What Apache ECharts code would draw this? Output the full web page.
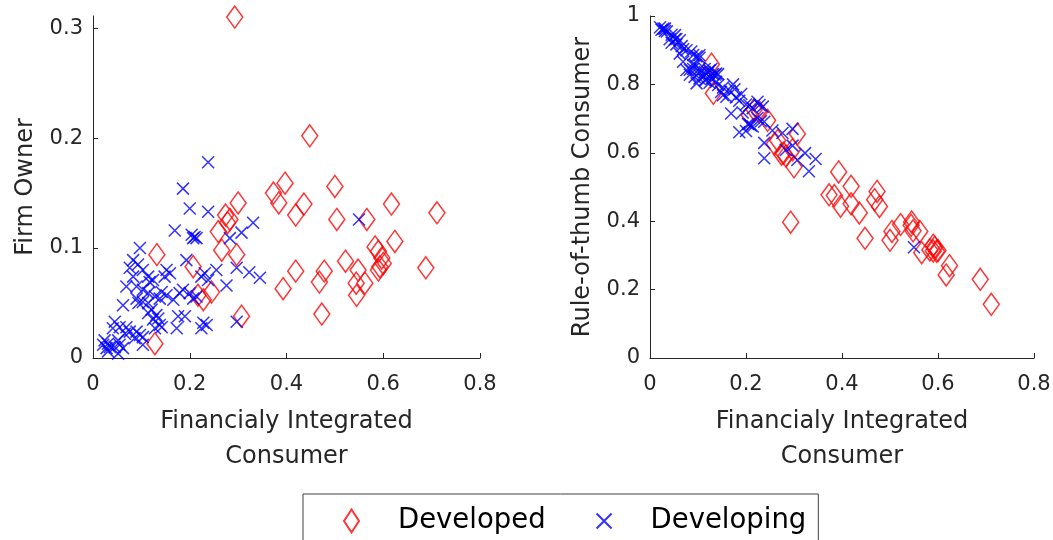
<!DOCTYPE html>
<html>
<head>
<meta charset="utf-8">
<script src="https://cdn.jsdelivr.net/npm/echarts@6/dist/echarts.min.js"></script>
<style>
html,body{margin:0;padding:0;background:#fff;}
#chart{width:1053px;height:540px;}
</style>
</head>
<body>
<div id="chart"></div>
<script>
// Developed economies
const devX    = [0.293,0.448,0.397,0.500,0.436,0.419,0.504,0.566,0.617,0.711,0.624,0.583,0.590,0.597,0.600,0.593,0.590,0.522,0.548,0.562,0.544,0.545,0.688,0.419,0.478,0.468,0.393,0.473,0.373,0.384,0.300,0.274,0.283,0.278,0.259,0.266,0.297,0.207,0.245,0.217,0.228,0.307,0.132,0.128];
const devFirm = [0.310,0.202,0.159,0.156,0.140,0.130,0.126,0.126,0.140,0.132,0.106,0.101,0.097,0.091,0.086,0.083,0.080,0.088,0.080,0.068,0.068,0.057,0.082,0.079,0.079,0.069,0.063,0.040,0.150,0.141,0.141,0.130,0.126,0.123,0.115,0.098,0.094,0.083,0.060,0.057,0.053,0.038,0.094,0.013];
const devRot  = [0.397,0.350,0.444,0.344,0.424,0.451,0.370,0.308,0.243,0.157,0.270,0.316,0.313,0.312,0.314,0.324,0.330,0.390,0.372,0.370,0.388,0.398,0.230,0.502,0.443,0.463,0.544,0.487,0.477,0.475,0.559,0.596,0.591,0.599,0.626,0.636,0.609,0.710,0.695,0.726,0.719,0.655,0.774,0.859];

// Developing economies
const dvgX    = [0.238,0.186,0.200,0.238,0.169,0.204,0.210,0.214,0.207,0.331,0.307,0.283,0.097,0.193,0.255,0.297,0.323,0.345,0.231,0.224,0.238,0.276,0.186,0.179,0.200,0.214,0.207,0.152,0.159,0.148,0.083,0.093,0.076,0.103,0.083,0.114,0.124,0.117,0.069,0.090,0.103,0.114,0.128,0.142,0.152,0.138,0.062,0.090,0.103,0.114,0.131,0.135,0.124,0.138,0.142,0.128,0.176,0.190,0.173,0.228,0.235,0.224,0.297,0.045,0.055,0.041,0.069,0.076,0.066,0.090,0.097,0.103,0.086,0.024,0.031,0.021,0.035,0.045,0.052,0.055,0.062,0.028,0.031,0.052,0.103,0.114,0.121,0.550,0.166,0.094];
const dvgFirm = [0.178,0.154,0.136,0.133,0.116,0.112,0.110,0.109,0.109,0.123,0.114,0.109,0.100,0.089,0.080,0.082,0.078,0.073,0.077,0.074,0.071,0.066,0.062,0.059,0.059,0.056,0.054,0.080,0.077,0.074,0.089,0.085,0.082,0.080,0.074,0.074,0.071,0.069,0.065,0.065,0.062,0.059,0.056,0.060,0.057,0.054,0.048,0.054,0.051,0.050,0.039,0.036,0.035,0.030,0.028,0.027,0.038,0.038,0.027,0.032,0.030,0.027,0.033,0.033,0.028,0.027,0.028,0.024,0.022,0.024,0.021,0.019,0.018,0.016,0.013,0.012,0.010,0.010,0.016,0.012,0.009,0.009,0.006,0.004,0.012,0.041,0.044,0.126,0.053,0.050];
const dvgRot  = [0.584,0.660,0.664,0.629,0.715,0.684,0.680,0.677,0.684,0.546,0.579,0.608,0.803,0.718,0.665,0.621,0.599,0.582,0.692,0.702,0.691,0.658,0.752,0.762,0.741,0.730,0.739,0.768,0.764,0.778,0.828,0.822,0.842,0.817,0.843,0.812,0.805,0.814,0.866,0.845,0.835,0.827,0.816,0.798,0.791,0.808,0.890,0.856,0.846,0.836,0.830,0.829,0.841,0.832,0.830,0.845,0.786,0.772,0.800,0.740,0.735,0.749,0.670,0.922,0.917,0.932,0.903,0.900,0.912,0.886,0.882,0.878,0.896,0.960,0.956,0.967,0.955,0.945,0.932,0.933,0.929,0.963,0.963,0.944,0.885,0.845,0.835,0.324,0.781,0.856];

const xTicks = [0, 0.2, 0.4, 0.6, 0.8];
const firmTicks = [0, 0.1, 0.2, 0.3];
const rotTicks = [0, 0.2, 0.4, 0.6, 0.8, 1];

const zip = (a, b) => a.map((v, i) => [v, b[i]]);

const FONT = 'DejaVu Sans';
const AX = '#262626';
const crossPath = 'path://M0 0L10 10M10 0L0 10';

function xAxis(gi) {
  return {
    type: 'value', gridIndex: gi, min: 0, max: 0.8, interval: 0.2,
    axisLine: { show: true, lineStyle: { color: AX, width: 1 } },
    axisTick: { show: true, inside: true, length: 5, lineStyle: { color: AX } },
    axisLabel: { color: AX, fontFamily: FONT, fontSize: 21, margin: 16, customValues: xTicks },
    splitLine: { show: false },
    name: 'Financialy Integrated\nConsumer', nameLocation: 'middle', nameGap: 46,
    nameTextStyle: { color: AX, fontFamily: FONT, fontSize: 24, lineHeight: 35 }
  };
}

const option = {
  animation: false,
  backgroundColor: '#ffffff',
  grid: [
    { left: 93, top: 16, width: 387, height: 342, outerBoundsMode: 'none', containLabel: false },
    { left: 650, top: 16, width: 384, height: 342, outerBoundsMode: 'none', containLabel: false }
  ],
  xAxis: [xAxis(0), xAxis(1)],
  yAxis: [
    {
      type: 'value', gridIndex: 0, min: 0, max: 0.311,
      axisLine: { show: true, lineStyle: { color: AX, width: 1 } },
      axisTick: { show: true, inside: true, length: 5, lineStyle: { color: AX }, customValues: firmTicks },
      axisLabel: { color: AX, fontFamily: FONT, fontSize: 21, margin: 10, customValues: firmTicks },
      splitLine: { show: false },
      name: 'Firm Owner', nameLocation: 'middle', nameGap: 55,
      nameTextStyle: { color: AX, fontFamily: FONT, fontSize: 24 }
    },
    {
      type: 'value', gridIndex: 1, min: 0, max: 1, interval: 0.2,
      axisLine: { show: true, lineStyle: { color: AX, width: 1 } },
      axisTick: { show: true, inside: true, length: 5, lineStyle: { color: AX }, customValues: rotTicks },
      axisLabel: { color: AX, fontFamily: FONT, fontSize: 21, margin: 10, customValues: rotTicks },
      splitLine: { show: false },
      name: 'Rule-of-thumb Consumer', nameLocation: 'middle', nameGap: 55,
      nameTextStyle: { color: AX, fontFamily: FONT, fontSize: 24 }
    }
  ],
  legend: {
    data: ['Developed', 'Developing'],
    left: 303, top: 494, orient: 'horizontal',
    padding: [13, 12, 13, 40],
    itemWidth: 15, itemHeight: 23, itemGap: 50,
    borderColor: '#404040', borderWidth: 1,
    backgroundColor: '#ffffff',
    selectedMode: false,
    textStyle: { color: '#000', fontFamily: FONT, fontSize: 27.5, padding: [0, 0, 0, 34] }
  },
  series: [
    {
      name: 'Developed', type: 'scatter', xAxisIndex: 0, yAxisIndex: 0,
      data: zip(devX, devFirm), symbol: 'diamond', symbolSize: [16, 22],
      itemStyle: { color: 'rgba(0,0,0,0)', borderColor: '#ff0000', borderWidth: 1.5 },
      silent: true
    },
    {
      name: 'Developing', type: 'scatter', xAxisIndex: 0, yAxisIndex: 0,
      data: zip(dvgX, dvgFirm), symbol: crossPath, symbolSize: 12,
      itemStyle: { color: 'rgba(0,0,0,0)', borderColor: '#0000ff', borderWidth: 1.5 },
      silent: true
    },
    {
      name: 'Developed', type: 'scatter', xAxisIndex: 1, yAxisIndex: 1,
      data: zip(devX, devRot), symbol: 'diamond', symbolSize: [16, 22],
      itemStyle: { color: 'rgba(0,0,0,0)', borderColor: '#ff0000', borderWidth: 1.5 },
      silent: true
    },
    {
      name: 'Developing', type: 'scatter', xAxisIndex: 1, yAxisIndex: 1,
      data: zip(dvgX, dvgRot), symbol: crossPath, symbolSize: 12,
      itemStyle: { color: 'rgba(0,0,0,0)', borderColor: '#0000ff', borderWidth: 1.5 },
      silent: true
    }
  ]
};

const chart = echarts.init(document.getElementById('chart'), null, { renderer: 'canvas' });
chart.setOption(option);
</script>
</body>
</html>
